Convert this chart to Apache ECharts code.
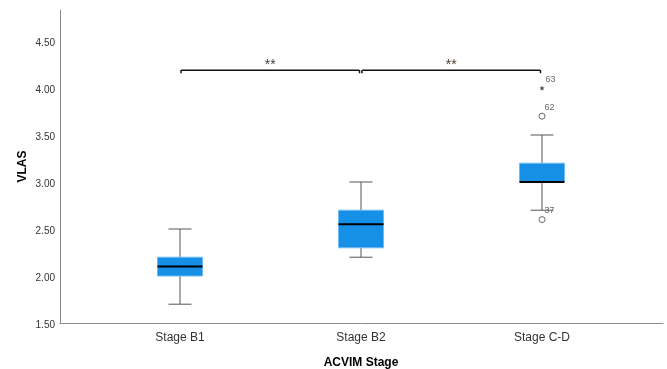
<!DOCTYPE html>
<html>
<head>
<meta charset="utf-8">
<script src="https://cdn.jsdelivr.net/npm/echarts@6/dist/echarts.min.js"></script>
<style>html,body{margin:0;padding:0;background:#fff;}#c{width:667px;height:369px;}</style>
</head>
<body>
<div id="c"></div>
<script>
// ---- data ----
var categories = ['Stage B1', 'Stage B2', 'Stage C-D'];
// [low whisker, Q1, median, Q3, high whisker]
var boxStats = [
  [1.70, 2.00, 2.10, 2.20, 2.50],
  [2.20, 2.30, 2.55, 2.70, 3.00],
  [2.70, 3.00, 3.00, 3.20, 3.50]
];
// outliers: [category index, value, case label]
var outliers = [[2, 2.60, '37'], [2, 3.70, '62']];
var extremes = [[2, 4.00, '63']];
// significance brackets: [from category, to category, level, text]
var brackets = [[0, 1, 4.19, '**'], [1, 2, 4.19, '**']];
var yMin = 1.5, yMax = 4.83, yStep = 0.5;

var chart = echarts.init(document.getElementById('c'), null, {renderer: 'canvas'});
var axisGray = '#8a8a8a';
var font = 'Liberation Sans, Arial, sans-serif';

var boxData = boxStats.map(function (s, i) { return [i].concat(s); });

var option = {
  animation: false,
  backgroundColor: '#fff',
  textStyle: {fontFamily: font},
  grid: [
    {left: 60, right: 4, top: 10, bottom: 46, outerBoundsMode: 'none', containLabel: false},
    {left: 89.5, width: 543, top: 10, bottom: 46, outerBoundsMode: 'none', containLabel: false}
  ],
  xAxis: [
    {gridIndex: 0, type: 'value', min: 0, max: 1,
     axisLine: {show: true, lineStyle: {color: axisGray, width: 1}},
     axisTick: {show: false}, axisLabel: {show: false}, splitLine: {show: false}},
    {gridIndex: 1, type: 'category', data: categories, boundaryGap: true,
     axisLine: {show: false}, axisTick: {show: false}, splitLine: {show: false},
     axisLabel: {color: '#333', fontSize: 12, margin: 9, fontFamily: font},
     name: 'ACVIM Stage', nameLocation: 'middle', nameGap: 34, nameMoveOverlap: false,
     nameTextStyle: {color: '#000', fontSize: 12, fontWeight: 'bold', fontFamily: font}}
  ],
  yAxis: [
    {gridIndex: 0, type: 'value', min: yMin, max: yMax, interval: yStep,
     axisLine: {show: true, lineStyle: {color: axisGray, width: 1}},
     axisTick: {show: false}, splitLine: {show: false},
     axisLabel: {color: '#333', fontSize: 10, margin: 5, fontFamily: font,
       formatter: function (v) { return '{v|' + v.toFixed(2) + '}'; },
       rich: {v: {color: '#333', fontSize: 10, fontFamily: font, padding: [4, 0, 0, 0]}},
       showMaxLabel: false},
     name: 'VLAS', nameLocation: 'middle', nameGap: 31, nameRotate: 90, nameMoveOverlap: false,
     nameTextStyle: {color: '#000', fontSize: 12, fontWeight: 'bold', fontFamily: font}},
    {gridIndex: 1, type: 'value', min: yMin, max: yMax, interval: yStep, show: false}
  ],
  series: [
    {
      type: 'custom', xAxisIndex: 1, yAxisIndex: 1,
      data: boxData,
      encode: {x: 0, y: [1, 2, 3, 4, 5]},
      renderItem: function (params, api) {
        var i = api.value(0);
        var pLow = api.coord([i, api.value(1)]);
        var pQ1 = api.coord([i, api.value(2)]);
        var pMed = api.coord([i, api.value(3)]);
        var pQ3 = api.coord([i, api.value(4)]);
        var pHigh = api.coord([i, api.value(5)]);
        var x = pLow[0];
        var hw = 22.5, cw = 11.5;
        var wStyle = {stroke: '#555', lineWidth: 1, fill: null};
        return {
          type: 'group',
          children: [
            {type: 'line', shape: {x1: x, y1: pLow[1], x2: x, y2: pQ1[1]}, style: wStyle},
            {type: 'line', shape: {x1: x, y1: pQ3[1], x2: x, y2: pHigh[1]}, style: wStyle},
            {type: 'line', shape: {x1: x - cw, y1: pLow[1], x2: x + cw, y2: pLow[1]}, style: wStyle},
            {type: 'line', shape: {x1: x - cw, y1: pHigh[1], x2: x + cw, y2: pHigh[1]}, style: wStyle},
            {type: 'rect', shape: {x: x - hw, y: pQ3[1], width: 2 * hw, height: pQ1[1] - pQ3[1]},
             style: {fill: '#1690e6', stroke: '#6fbaf2', lineWidth: 1}},
            {type: 'line', shape: {x1: x - hw, y1: pMed[1], x2: x + hw, y2: pMed[1]},
             style: {stroke: '#000', lineWidth: 2}}
          ]
        };
      }
    },
    {
      type: 'scatter', xAxisIndex: 1, yAxisIndex: 1,
      data: outliers,
      symbol: 'circle', symbolSize: 6,
      itemStyle: {color: '#fff', borderColor: '#444', borderWidth: 1},
      label: {show: true, position: [6, -10], formatter: function (p) { return p.data[2]; },
        color: '#444', fontSize: 9, fontFamily: font}
    },
    {
      type: 'scatter', xAxisIndex: 1, yAxisIndex: 1,
      data: extremes,
      symbol: 'path://M0,-10 L2.9,-4 9.5,-3.1 4.8,1.5 5.9,8.1 0,5 -5.9,8.1 -4.8,1.5 -9.5,-3.1 -2.9,-4Z',
      symbolSize: 5,
      itemStyle: {color: '#333'},
      label: {show: true, position: [6, -10], formatter: function (p) { return p.data[2]; },
        color: '#444', fontSize: 9, fontFamily: font}
    },
    {
      type: 'custom', xAxisIndex: 1, yAxisIndex: 1,
      data: brackets,
      encode: {x: [0, 1], y: 2},
      renderItem: function (params, api) {
        var a = api.coord([api.value(0), api.value(2)]);
        var b = api.coord([api.value(1), api.value(2)]);
        var x0 = a[0] + 1, x1 = b[0] - 1.5, y = a[1];
        var d = brackets[params.dataIndex];
        return {
          type: 'group',
          children: [
            {type: 'polyline', shape: {points: [[x0, y + 3], [x0, y + 0.5], [x0 + 1, y], [x1 - 1, y], [x1, y + 0.5], [x1, y + 3]]},
             style: {stroke: '#111', lineWidth: 1.5, fill: null}},
            {type: 'text', x: (x0 + x1) / 2, y: y + 2,
             style: {text: d[3], fill: '#4d3f33', fontSize: 14, fontFamily: font,
               textAlign: 'center', textVerticalAlign: 'bottom'}}
          ]
        };
      }
    }
  ]
};
chart.setOption(option);
</script>
</body>
</html>
